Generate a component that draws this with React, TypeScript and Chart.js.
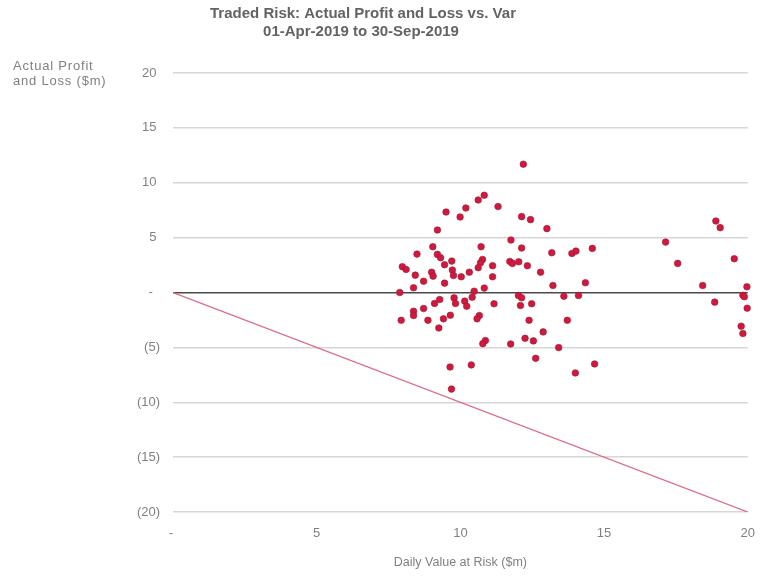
import React, { useEffect, useRef } from "react";
import { Chart, registerables } from "chart.js";

Chart.register(...registerables);

const titleLines = ["Traded Risk: Actual Profit and Loss vs. Var", "01-Apr-2019 to 30-Sep-2019"];
const yAxisLabelLines = ["Actual Profit", "and Loss ($m)"];
const xAxisLabel = "Daily Value at Risk ($m)";

const varValues = [
  12.19, 10.83, 10.62, 11.31, 9.5, 10.19, 9.99, 12.13, 12.44, 9.2,
  13.01, 11.76, 9.04, 10.72, 12.13, 8.49, 13.18, 13.88, 14.02, 9.2,
  9.31, 9.7, 9.45, 10.77, 10.7, 10.62, 11.72, 11.81, 12.03, 12.33,
  11.12, 7.98, 8.11, 9.72, 9.76, 9.0, 9.05, 10.31, 12.79, 8.43,
  10.03, 11.12, 8.72, 9.45, 13.22, 8.37, 10.83, 7.89, 10.48, 12.02,
  12.13, 13.6, 14.11, 9.28, 9.1, 9.78, 9.83, 10.15, 10.22, 10.41,
  11.17, 12.09, 12.48, 8.72, 8.37, 8.37, 9.65, 9.41, 10.66, 10.58,
  7.94, 8.87, 12.39, 13.72, 9.25, 12.88, 12.25, 12.54, 10.87, 10.78,
  11.75, 13.42, 12.62, 9.64, 10.38, 14.0, 9.69, 18.89, 19.04, 17.14,
  14.59, 19.53, 17.56, 14.35, 18.43, 19.97, 19.83, 19.88, 18.85, 19.98,
  19.77, 19.83, 14.67,
];

const plValues = [
  11.69, 8.86, 8.43, 7.83, 7.33, 7.7, 6.88, 6.91, 6.64, 5.69,
  5.82, 4.78, 4.17, 4.17, 4.05, 3.5, 3.62, 3.56, 3.77, 3.47,
  3.17, 2.86, 2.53, 3.01, 2.71, 2.26, 2.83, 2.65, 2.8, 2.44,
  2.44, 2.35, 2.1, 2.04, 1.55, 1.85, 1.49, 1.85, 1.85, 1.58,
  1.43, 1.43, 1.03, 0.85, 0.64, 0.43, 0.4, 0.0, 0.12, -0.27,
  -0.48, -0.34, -0.27, -0.64, -1.0, -0.49, -1.0, -0.79, -1.25, -0.43,
  -1.03, -1.19, -1.03, -1.46, -1.71, -2.1, -2.07, -2.4, -2.1, -2.4,
  -2.53, -2.53, -2.53, -2.53, -3.23, -3.59, -4.17, -4.41, -4.38, -4.66,
  -4.69, -5.02, -6.0, -6.79, -6.6, -7.33, -8.8, 6.51, 5.91, 4.59,
  4.02, 3.08, 2.65, 0.89, 0.64, 0.52, -0.25, -0.39, -0.88, -1.43,
  -3.07, -3.74, -6.51,
];

const lineX = [0, 20];
const lineY = [0, -20];

const fontFamily = "'Liberation Sans', Arial, sans-serif";

// accounting-style labels: positives padded to align with ")", zero shown as "-"
const fmtY = (v: number) => {
  if (v === 0) return "-  ";
  if (v < 0) return "(" + Math.abs(v) + ")";
  return String(v) + " ";
};
const fmtX = (v: number) => {
  if (v === 0) return "- ";
  return String(v);
};

const textPlugin = {
  id: "customText",
  afterDraw(chart: any) {
    const ctx = chart.ctx;
    ctx.save();
    ctx.fillStyle = "#636363";
    ctx.textAlign = "center";
    ctx.textBaseline = "middle";
    ctx.font = "bold 15px " + fontFamily;
    ctx.fillText(titleLines[0], 363, 14);
    ctx.fillText(titleLines[1], 361, 32);
    ctx.fillStyle = "#808080";
    ctx.textAlign = "left";
    ctx.font = "13px " + fontFamily;
    try {
      ctx.letterSpacing = "0.8px";
    } catch (e) {}
    ctx.fillText(yAxisLabelLines[0], 13, 66);
    ctx.fillText(yAxisLabelLines[1], 13, 81);
    ctx.restore();
  },
};

export default function App() {
  const ref = useRef<HTMLCanvasElement>(null);
  useEffect(() => {
    if (!ref.current) return;
    const points = varValues.map((x, i) => ({ x, y: plValues[i] }));
    const linePts = lineX.map((x, i) => ({ x, y: lineY[i] }));
    const chart = new Chart(ref.current, {
      type: "scatter",
      data: {
        datasets: [
          {
            type: "line",
            data: linePts,
            borderColor: "#e06680",
            borderWidth: 1.3,
            pointRadius: 0,
            fill: false,
            order: 2,
          } as any,
          {
            data: points,
            backgroundColor: "#cf1a40",
            borderColor: "#a8102e",
            borderWidth: 0.6,
            pointRadius: 3.3,
            order: 1,
            clip: false,
          } as any,
        ],
      },
      options: {
        animation: false,
        responsive: false,
        devicePixelRatio: 1,
        layout: { padding: { top: 73, right: 7, left: 0, bottom: 0 } },
        plugins: { legend: { display: false }, tooltip: { enabled: false }, title: { display: false } },
        scales: {
          x: {
            type: "linear",
            min: 0,
            max: 20,
            afterFit: (s: any) => {
              s.height = 64;
            },
            grid: { display: false },
            border: { display: false },
            ticks: {
              stepSize: 5,
              padding: 6,
              color: "#808080",
              font: { family: fontFamily, size: 13 },
              callback: (v: any) => fmtX(Number(v)),
            },
            title: {
              display: true,
              text: xAxisLabel,
              color: "#808080",
              font: { family: fontFamily, size: 12.5 },
              padding: { top: 0, bottom: 6 },
            },
          },
          y: {
            min: -20,
            max: 20,
            afterFit: (s: any) => {
              s.width = 173;
            },
            grid: {
              drawTicks: false,
              color: (c: any) => (c.tick && c.tick.value === 0 ? "#4a4a4a" : "#d6d6d6"),
              lineWidth: 1.4,
            },
            border: { display: false },
            ticks: {
              stepSize: 5,
              padding: 13,
              color: "#808080",
              font: { family: fontFamily, size: 13 },
              callback: (v: any) => fmtY(Number(v)),
            },
          },
        },
      },
      plugins: [textPlugin],
    });
    return () => chart.destroy();
  }, []);
  return (
    <div style={{ position: "fixed", left: 0, top: 0, width: 761, height: 576, background: "#fff" }}>
      <canvas ref={ref} width={761} height={576} style={{ width: 761, height: 576, display: "block" }} />
    </div>
  );
}
